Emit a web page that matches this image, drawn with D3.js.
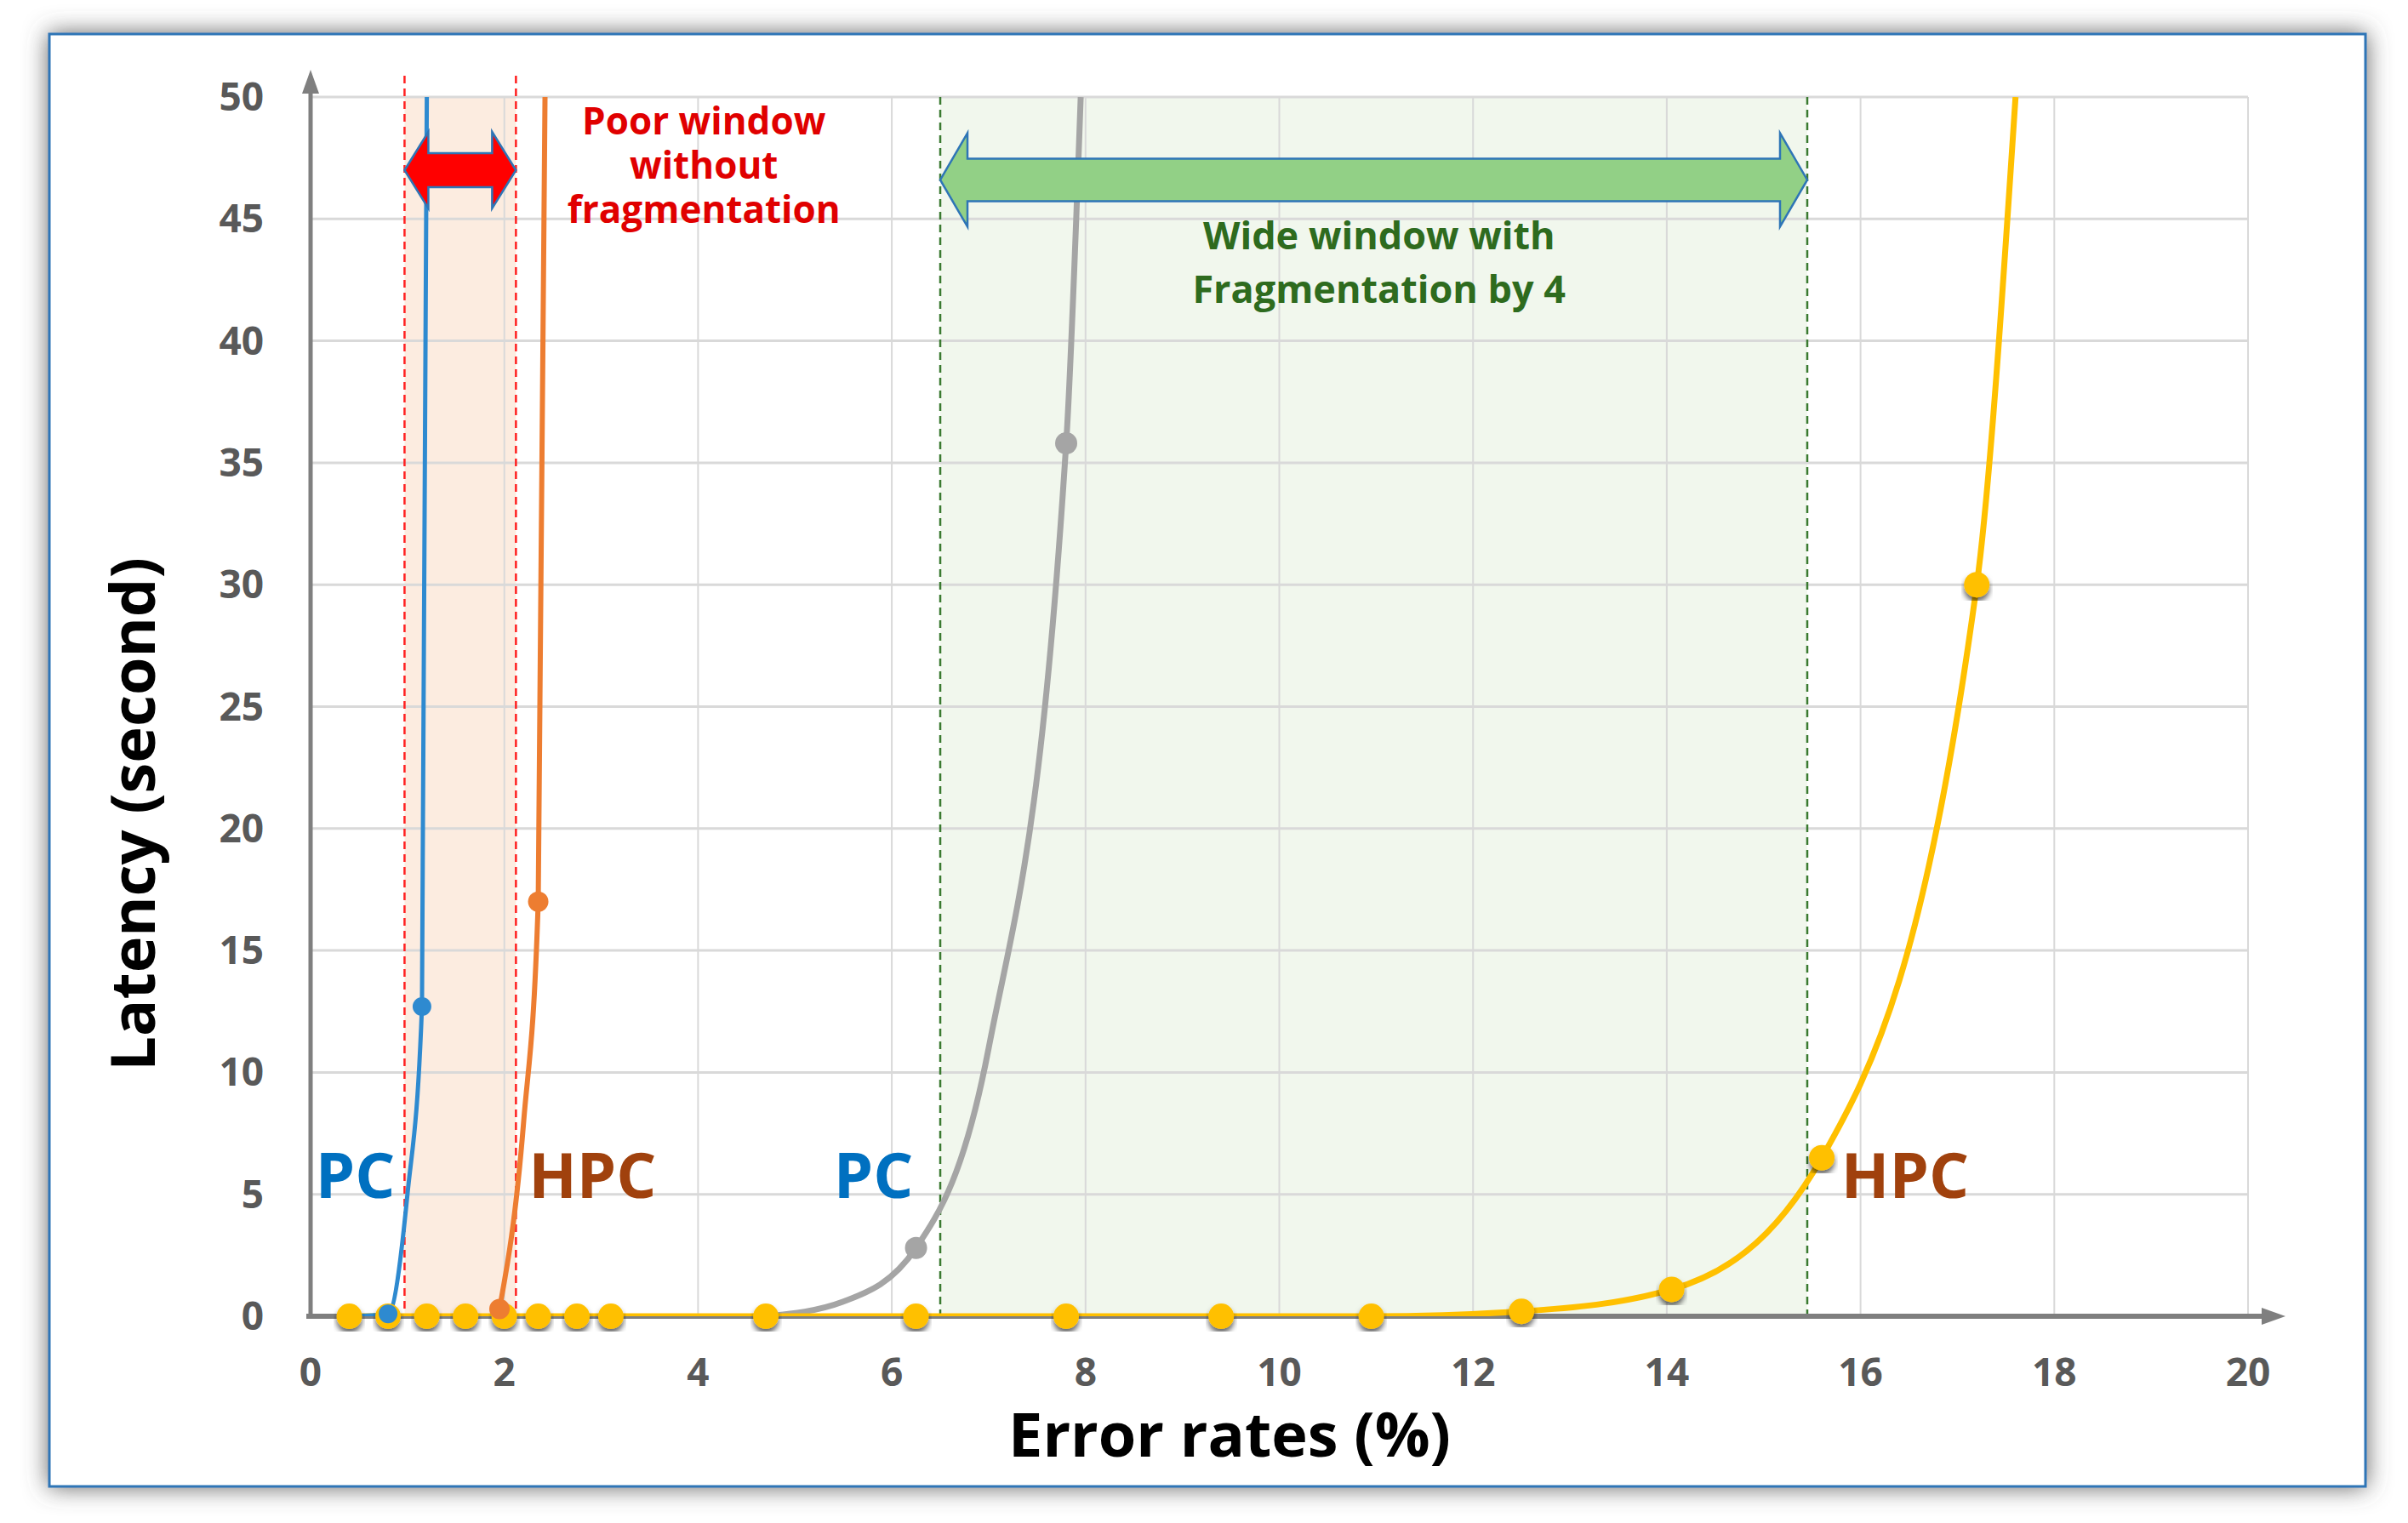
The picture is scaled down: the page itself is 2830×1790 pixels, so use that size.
<!DOCTYPE html>
<html><head><meta charset="utf-8">
<script src="https://cdn.jsdelivr.net/npm/d3@7"></script>
<style>body{margin:0;background:#fff}svg{display:block}</style>
</head><body>
<script>
// data (x = error rate %, y = latency s)
const pcNoFrag = [[0.4,0],[0.8,0.1],[1.0,5],[1.15,12.7],[1.2,50]];
const hpcNoFrag = [[1.95,0.3],[2.2,8],[2.35,17],[2.42,50]];
const pcFrag = [[4.7,0],[5.5,0.6],[6.25,2.8],[7.0,11],[7.8,35.8],[7.95,50]];
const hpcFrag = [[0.4,0],[0.8,0],[1.2,0],[1.6,0],[2.0,0],[2.35,0],[2.75,0],[3.1,0],[4.7,0],[6.25,0],[7.8,0],[9.4,0],[10.95,0],[12.5,0.2],[14.05,1.1],[15.6,6.5],[17.2,30],[17.6,50]];
const pcNoFragDots = [[0.8,0.1],[1.15,12.7]];
const hpcNoFragDots = [[1.95,0.3],[2.35,17]];
const pcFragDots = [[6.25,2.8],[7.8,35.8]];
const hpcFragDots = [[0.4,0],[0.8,0],[1.2,0],[1.6,0],[2.0,0],[2.35,0],[2.75,0],[3.1,0],[4.7,0],[6.25,0],[7.8,0],[9.4,0],[10.95,0],[12.5,0.2],[14.05,1.1],[15.6,6.5],[17.2,30]];
const xTicks = [0,2,4,6,8,10,12,14,16,18,20];
const yTicks = [0,5,10,15,20,25,30,35,40,45,50];
const poorWindow = [0.97, 2.12];
const wideWindow = [6.5, 15.45];

const W = 2830, H = 1790;
const svg = d3.select('body').append('svg').attr('width', W).attr('height', H);
const defs = svg.append('defs');
const sh = defs.append('filter').attr('id','sh').attr('x','-5%').attr('y','-5%').attr('width','110%').attr('height','110%');
sh.append('feDropShadow').attr('dx',0).attr('dy',0).attr('stdDeviation',14).attr('flood-color','#555').attr('flood-opacity',0.9);
const ds = defs.append('filter').attr('id','ds');
ds.append('feDropShadow').attr('dx',0).attr('dy',5).attr('stdDeviation',3).attr('flood-color','#000').attr('flood-opacity',0.6);

svg.append('rect').attr('x',58).attr('y',40).attr('width',2722).attr('height',1707)
   .attr('fill','#fff').attr('stroke','#2e75b6').attr('stroke-width',3).attr('filter','url(#sh)');

const x = d3.scaleLinear().domain([0,20]).range([365,2642]);
const y = d3.scaleLinear().domain([0,50]).range([1547,114]);

defs.append('clipPath').attr('id','clip').append('rect')
    .attr('x',x(0)).attr('y',y(50)).attr('width',x(20)-x(0)).attr('height',y(0)-y(50));

// windows
svg.append('rect').attr('x',x(poorWindow[0])).attr('y',y(50)).attr('width',x(poorWindow[1])-x(poorWindow[0]))
   .attr('height',y(0)-y(50)).attr('fill','#fbe5d6').attr('opacity',0.75);
svg.append('rect').attr('x',x(wideWindow[0])).attr('y',y(50)).attr('width',x(wideWindow[1])-x(wideWindow[0]))
   .attr('height',y(0)-y(50)).attr('fill','#eef5e8').attr('opacity',0.8);

// grid
svg.append('g').selectAll('line').data(xTicks.slice(1)).join('line')
   .attr('x1',d=>x(d)).attr('x2',d=>x(d)).attr('y1',y(50)).attr('y2',y(0)).attr('stroke','#d9d9d9').attr('stroke-width',2);
svg.append('g').selectAll('line').data(yTicks.slice(1)).join('line')
   .attr('x1',x(0)).attr('x2',x(20)).attr('y1',d=>y(d)).attr('y2',d=>y(d)).attr('stroke','#d9d9d9').attr('stroke-width',3);

// dashed window borders
poorWindow.forEach(v => svg.append('line').attr('x1',x(v)).attr('x2',x(v)).attr('y1',y(50)-25).attr('y2',y(0))
   .attr('stroke','#ff2020').attr('stroke-width',2.5).attr('stroke-dasharray','9,6'));
wideWindow.forEach(v => svg.append('line').attr('x1',x(v)).attr('x2',x(v)).attr('y1',y(50)).attr('y2',y(0))
   .attr('stroke','#3a7a30').attr('stroke-width',2.5).attr('stroke-dasharray','9,6'));

// axes
const axisCol = '#7f7f7f';
svg.append('line').attr('x1',x(0)).attr('x2',x(0)).attr('y1',y(0)).attr('y2',y(50)-10).attr('stroke',axisCol).attr('stroke-width',5);
svg.append('path').attr('d',`M${x(0)-10},${y(50)-4}L${x(0)},${y(50)-32}L${x(0)+10},${y(50)-4}Z`).attr('fill',axisCol);
svg.append('line').attr('x1',x(0)-5).attr('x2',x(20)+20).attr('y1',y(0)).attr('y2',y(0)).attr('stroke',axisCol).attr('stroke-width',6);
svg.append('path').attr('d',`M${x(20)+16},${y(0)-10}L${x(20)+44},${y(0)}L${x(20)+16},${y(0)+10}Z`).attr('fill',axisCol);

const font = "'Open Sans', 'Noto Sans', sans-serif";
svg.append('g').selectAll('text').data(xTicks).join('text')
   .attr('x',d=>x(d)).attr('y',y(0)+82).attr('text-anchor','middle')
   .attr('font-family',font).attr('font-weight','bold').attr('font-size',46).attr('fill','#595959').text(d=>d);
svg.append('g').selectAll('text').data(yTicks).join('text')
   .attr('x',x(0)-55).attr('y',d=>y(d)+16).attr('text-anchor','end')
   .attr('font-family',font).attr('font-weight','bold').attr('font-size',46).attr('fill','#595959').text(d=>d);

svg.append('text').attr('x',1445).attr('y',1712).attr('text-anchor','middle').attr('font-family',font)
   .attr('font-weight','bold').attr('font-size',72).attr('fill','#000').text('Error rates (%)');
svg.append('text').attr('transform','translate(182,957) rotate(-90)').attr('text-anchor','middle').attr('font-family',font)
   .attr('font-weight','bold').attr('font-size',72).attr('fill','#000').text('Latency (second)');

// curves
const line = d3.line().x(d=>x(d[0])).y(d=>y(d[1])).curve(d3.curveMonotoneX);
const plot = svg.append('g').attr('clip-path','url(#clip)');
[[pcFrag,'#a5a5a5',7],[hpcFrag,'#ffc000',7],[pcNoFrag,'#2e8ad0',5],[hpcNoFrag,'#ed7d31',6]].forEach(([d,c,w]) =>
  plot.append('path').datum(d).attr('d',line).attr('fill','none').attr('stroke',c).attr('stroke-width',w));

// markers
function dots(data, col, r, shadow) {
  svg.append('g').selectAll('circle').data(data).join('circle')
     .attr('cx',d=>x(d[0])).attr('cy',d=>y(d[1])).attr('r',r).attr('fill',col)
     .attr('filter', shadow ? 'url(#ds)' : null);
}
dots(hpcFragDots,'#ffc000',15,true);
dots(pcFragDots,'#a5a5a5',13,false);
dots(pcNoFragDots,'#2e8ad0',11,false);
dots(hpcNoFragDots,'#ed7d31',12,false);

// double arrows
function dblArrow(x1, x2, yc, hh, sh2, head, fill, stroke) {
  const p = `M${x1},${yc}L${x1+head},${yc-hh}L${x1+head},${yc-sh2}L${x2-head},${yc-sh2}L${x2-head},${yc-hh}L${x2},${yc}` +
            `L${x2-head},${yc+hh}L${x2-head},${yc+sh2}L${x1+head},${yc+sh2}L${x1+head},${yc+hh}Z`;
  svg.append('path').attr('d',p).attr('fill',fill).attr('stroke',stroke).attr('stroke-width',2.5);
}
dblArrow(x(poorWindow[0]), x(poorWindow[1]), y(47), 45, 20, 28, '#ff0000', '#2e75b6');
dblArrow(x(wideWindow[0]), x(wideWindow[1]), y(46.6), 55, 25, 32, '#92d086', '#2e75b6');

// annotations
const poor = svg.append('text').attr('text-anchor','middle').attr('font-family',font).attr('font-weight','bold')
   .attr('font-size',44).attr('fill','#e00000');
['Poor window','without','fragmentation'].forEach((t,i)=>poor.append('tspan').attr('x',x(4.06)).attr('y',158+i*52).text(t));
const wide = svg.append('text').attr('text-anchor','middle').attr('font-family',font).attr('font-weight','bold')
   .attr('font-size',45).attr('fill','#2e6b1e');
['Wide window with','Fragmentation by 4'].forEach((t,i)=>wide.append('tspan').attr('x',x(11.03)).attr('y',293+i*63).text(t));

const labels = [['PC',x(0.05),'#0070c0'],['HPC',x(2.25),'#a0410d'],['PC',x(5.4),'#0070c0'],['HPC',x(15.8),'#a0410d']];
svg.append('g').selectAll('text').data(labels).join('text')
   .attr('x',d=>d[1]).attr('y',1408).attr('font-family',font).attr('font-weight','bold').attr('font-size',74)
   .attr('fill',d=>d[2]).text(d=>d[0]);
</script>
</body></html>
